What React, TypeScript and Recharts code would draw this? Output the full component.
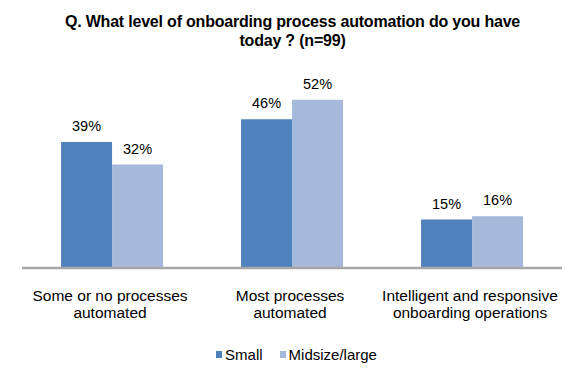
import { BarChart, Bar, XAxis, YAxis, LabelList } from 'recharts';

const categories = ['Some or no processes|automated', 'Most processes|automated', 'Intelligent and responsive|onboarding operations'];
const small = [39, 46, 15];
const midsize = [32, 52, 16];
const seriesNames = ['Small', 'Midsize/large'];
const colors = ['#4F81BD', '#A5B9DB'];

const data = categories.map((c, i) => ({ name: c, small: small[i], midsize: midsize[i] }));

const FONT = '"Liberation Sans", Arial, sans-serif';

function Tick(props: any) {
  const { x, y, payload } = props;
  const lines = String(payload.value).split('|');
  return (
    <g transform={`translate(${x},${y})`}>
      {lines.map((l, i) => (
        <text key={i} x={-2} y={25 + i * 17} textAnchor="middle" fill="#000" fontSize={15.5} fontFamily={FONT}>
          {l}
        </text>
      ))}
    </g>
  );
}

function LegendContent() {
  return (
    <div style={{ display: 'flex', justifyContent: 'center', gap: 17, fontFamily: FONT, fontSize: 15, color: '#000' }}>
      {seriesNames.map((n, i) => (
        <span key={n} style={{ display: 'flex', alignItems: 'center', gap: 3 }}>
          <span style={{ width: 6, height: 7, background: colors[i], display: 'inline-block' }} />
          {n}
        </span>
      ))}
    </div>
  );
}

export default function App() {
  return (
    <div style={{ position: 'absolute', left: 0, top: 0, width: 585, height: 382, background: '#fff' }}>
      <div
        style={{
          position: 'absolute',
          top: 12,
          left: 0,
          width: 585,
          textAlign: 'center',
          fontFamily: FONT,
          fontWeight: 'bold',
          fontSize: 16,
          letterSpacing: -0.2,
          lineHeight: '19px',
          color: '#000',
        }}
      >
        Q. What level of onboarding process automation do you have
        <br />
        today ? (n=99)
      </div>
      <BarChart
        width={585}
        height={382}
        data={data}
        margin={{ top: 74, right: 23, left: 22, bottom: 54 }}
        barCategoryGap="21.7%"
        barGap={0}
      >
        <YAxis hide domain={[0, 60]} />
        <XAxis
          dataKey="name"
          tick={<Tick />}
          tickLine={false}
          axisLine={{ stroke: '#A6A6A6', strokeWidth: 2.5 }}
          interval={0}
          height={60}
        />
        <Bar dataKey="small" fill={colors[0]} isAnimationActive={false}>
          <LabelList dataKey="small" position="top" offset={11} formatter={(v: any) => `${v}%`} fill="#000" fontSize={14.5} fontFamily={FONT} />
        </Bar>
        <Bar dataKey="midsize" fill={colors[1]} isAnimationActive={false}>
          <LabelList dataKey="midsize" position="top" offset={11} formatter={(v: any) => `${v}%`} fill="#000" fontSize={14.5} fontFamily={FONT} />
        </Bar>
      </BarChart>
      <div style={{ position: 'absolute', top: 346, left: 4, width: 585 }}>
        <LegendContent />
      </div>
    </div>
  );
}
